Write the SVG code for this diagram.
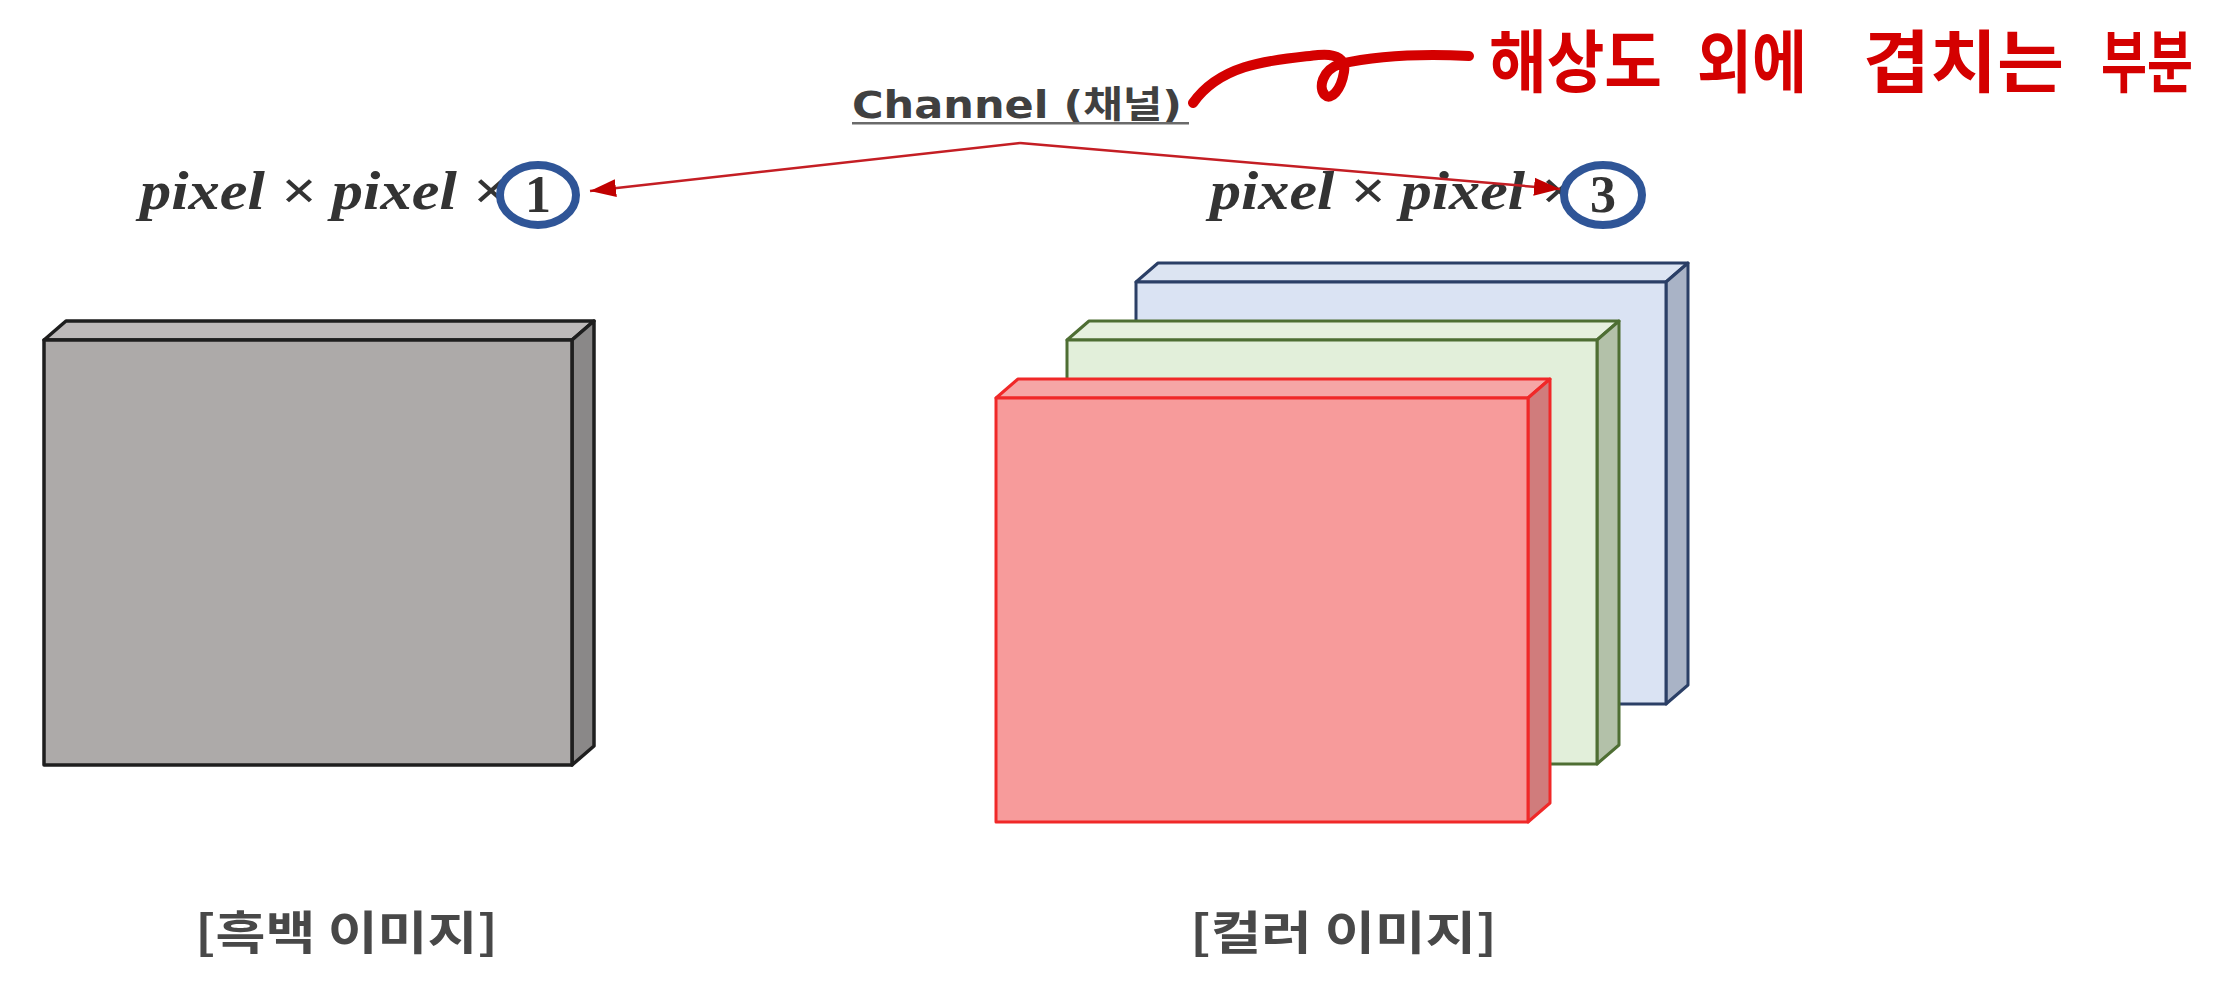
<svg xmlns="http://www.w3.org/2000/svg" width="2222" height="1000" viewBox="0 0 2222 1000">
<defs>
<style>
.math{font-family:"Liberation Serif","DejaVu Serif",serif;font-style:italic;font-weight:bold;font-size:54px;fill:#333333}
.digit{font-family:"Liberation Serif","DejaVu Serif",serif;font-weight:bold;font-size:52px;fill:#333333;text-anchor:middle}
.ring{fill:#ffffff;stroke:#2F5597;stroke-width:8}
.label{font-family:"Noto Sans CJK KR","Noto Sans",sans-serif;font-weight:700;font-size:46px;fill:#484848}
.hand{font-family:"Noto Sans CJK KR",sans-serif;font-weight:700;font-size:68px;fill:#D40000}
.conn{fill:none;stroke:#C41E24;stroke-width:2.5}
.slab{stroke-linejoin:round}
</style>
<marker id="ah" markerUnits="userSpaceOnUse" markerWidth="30" markerHeight="22" refX="26" refY="11" orient="auto">
<path d="M0,2 L26,11 L0,20 Z" fill="#C00000"/>
</marker>
</defs>
<rect width="2222" height="1000" fill="#ffffff"/>

<g id="gray-image" class="slab" stroke="#1E1E1E" stroke-width="3.5">
<polygon points="44,340 66,321 594,321 572,340" fill="#BDB9B9"/>
<polygon points="572,340 594,321 594,746 572,765" fill="#8A8888"/>
<rect x="44" y="340" width="528" height="425" fill="#ADAAA9"/>
</g>

<g id="blue-channel" class="slab" stroke="#2B3F66" stroke-width="3">
<polygon points="1136,282 1158,263 1688,263 1666,282" fill="#DCE4F2"/>
<polygon points="1666,282 1688,263 1688,685 1666,704" fill="#A9B3C6"/>
<rect x="1136" y="282" width="530" height="422" fill="#DAE3F3"/>
</g>

<g id="green-channel" class="slab" stroke="#4E6E33" stroke-width="3">
<polygon points="1067,340 1089,321 1619,321 1597,340" fill="#E6F0DE"/>
<polygon points="1597,340 1619,321 1619,745 1597,764" fill="#B3C1A9"/>
<rect x="1067" y="340" width="530" height="424" fill="#E2EFDA"/>
</g>

<g id="red-channel" class="slab" stroke="#F02828" stroke-width="3">
<polygon points="996,398 1018,379 1550,379 1528,398" fill="#F6A6A6"/>
<polygon points="1528,398 1550,379 1550,803 1528,822" fill="#D07C7C"/>
<rect x="996" y="398" width="532" height="424" fill="#F79B9B"/>
</g>

<g id="channel-title">
<text x="852" y="118" font-family="'DejaVu Sans','Noto Sans CJK KR',sans-serif" font-weight="bold" font-size="37" fill="#404040" textLength="330" lengthAdjust="spacingAndGlyphs">Channel (채널)</text>
<rect x="852" y="122" width="337" height="2.5" fill="#6A6A6A"/>
</g>

<g id="gray-dims">
<text class="math" x="140" y="209" textLength="368" lengthAdjust="spacingAndGlyphs">pixel × pixel ×</text>
<ellipse class="ring" cx="538" cy="195" rx="38" ry="30"/>
<text class="digit" x="538" y="212">1</text>
</g>

<g id="color-dims">
<text class="math" x="1210" y="209" textLength="366" lengthAdjust="spacingAndGlyphs">pixel × pixel ×</text>
<ellipse class="ring" cx="1603" cy="195" rx="39" ry="30"/>
<text class="digit" x="1603" y="212">3</text>
</g>

<g id="connectors">
<path class="conn" d="M1020,143 L590,191" marker-end="url(#ah)"/>
<path class="conn" d="M1020,143 L1560,189" marker-end="url(#ah)"/>
<path d="M1193,103 C1222,62 1275,60 1318,55 C1338,53 1346,60 1344,72 C1341,90 1331,101 1325,95 C1318,88 1322,70 1340,64 C1380,55 1430,54 1469,56" fill="none" stroke="#D40000" stroke-width="10" stroke-linecap="round" stroke-linejoin="round"/>
</g>

<g id="annotation">
<text class="hand" x="1489" y="87" textLength="173" lengthAdjust="spacingAndGlyphs">해상도</text>
<text class="hand" x="1697" y="87" textLength="110" lengthAdjust="spacingAndGlyphs">외에</text>
<text class="hand" x="1863" y="87" textLength="201" lengthAdjust="spacingAndGlyphs">겹치는</text>
<text class="hand" x="2101" y="87" textLength="92" lengthAdjust="spacingAndGlyphs">부분</text>
</g>

<g id="gray-label">
<text class="label" x="195" y="949" textLength="303" lengthAdjust="spacingAndGlyphs">[흑백 이미지]</text>
</g>
<g id="color-label">
<text class="label" x="1190" y="949" textLength="307" lengthAdjust="spacingAndGlyphs">[컬러 이미지]</text>
</g>
</svg>
